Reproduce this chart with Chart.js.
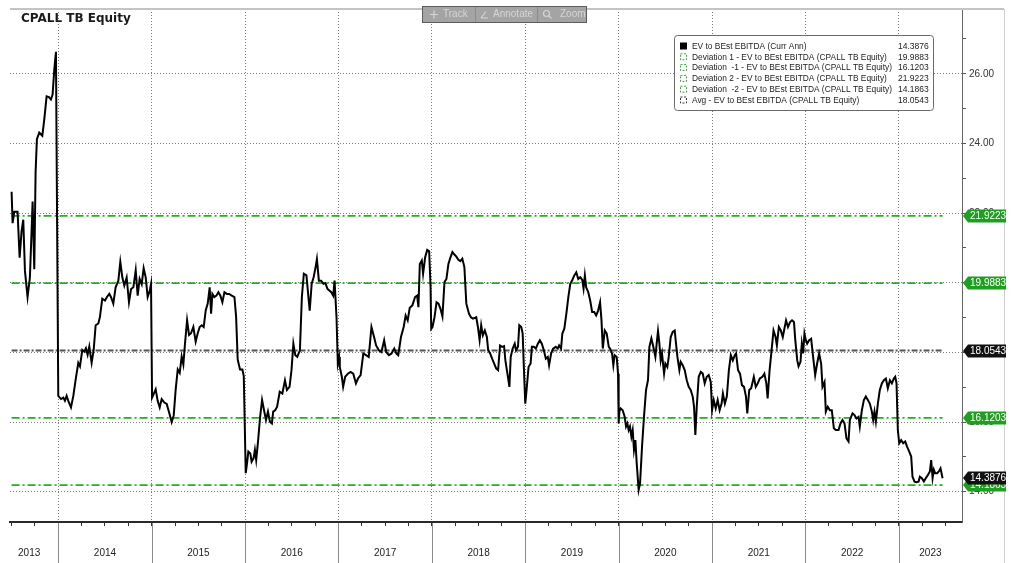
<!DOCTYPE html>
<html>
<head>
<meta charset="utf-8">
<script src="https://cdn.jsdelivr.net/npm/chart.js@4.4.0/dist/chart.umd.min.js"></script>
<style>
html,body{margin:0;padding:0;background:#fff;overflow:hidden}
#wrap{width:1013px;height:563px;position:relative}
</style>
</head>
<body>
<div id="wrap"><canvas id="c" width="1013" height="563"></canvas></div>
<script>
// ---------------- DATA ----------------
const title = 'CPALL TB Equity';
const years = [2013,2014,2015,2016,2017,2018,2019,2020,2021,2022,2023];
const dates = [
 2013.500,2013.511,2013.529,2013.564,2013.586,2013.607,2013.625,2013.643,2013.671,2013.696,2013.714,2013.725,2013.743,2013.757,2013.771,2013.796,2013.829,2013.850,2013.875,2013.900,2013.921,2013.939,2013.957,2013.975,
 2014.000,2014.029,2014.054,2014.071,2014.089,2014.107,2014.136,2014.161,2014.186,2014.214,2014.232,2014.257,2014.279,2014.296,2014.314,2014.332,2014.357,2014.379,2014.400,2014.429,2014.446,2014.471,2014.500,2014.521,2014.546,2014.564,2014.589,2014.614,2014.643,2014.664,2014.686,2014.707,2014.732,2014.757,2014.779,2014.804,2014.829,2014.850,2014.871,2014.893,2014.914,2014.936,2014.957,2014.979,2014.993,
 2015.004,2015.021,2015.043,2015.064,2015.086,2015.107,2015.136,2015.161,2015.186,2015.214,2015.236,2015.257,2015.279,2015.300,2015.321,2015.339,2015.357,2015.379,2015.400,2015.421,2015.446,2015.471,2015.493,2015.514,2015.536,2015.557,2015.579,2015.600,2015.621,2015.636,2015.650,2015.671,2015.693,2015.714,2015.736,2015.757,2015.779,2015.804,2015.829,2015.857,2015.886,2015.904,2015.921,2015.946,2015.971,2015.986,
 2016.007,2016.021,2016.035,2016.056,2016.070,2016.091,2016.105,2016.119,2016.140,2016.161,2016.182,2016.203,2016.224,2016.245,2016.266,2016.287,2016.301,2016.322,2016.343,2016.371,2016.399,2016.427,2016.448,2016.476,2016.497,2016.517,2016.538,2016.559,2016.587,2016.608,2016.629,2016.657,2016.678,2016.692,2016.713,2016.734,2016.755,2016.769,2016.790,2016.815,2016.839,2016.860,2016.881,2016.902,2016.923,2016.944,2016.958,2016.979,2016.993,
 2017.007,2017.014,2017.036,2017.050,2017.072,2017.101,2017.129,2017.158,2017.187,2017.209,2017.237,2017.266,2017.295,2017.324,2017.353,2017.381,2017.403,2017.432,2017.460,2017.489,2017.511,2017.540,2017.568,2017.597,2017.619,2017.640,2017.669,2017.698,2017.719,2017.741,2017.763,2017.791,2017.820,2017.842,2017.856,2017.871,2017.892,2017.906,2017.928,2017.950,2017.971,2017.986,2017.993,
 2018.007,2018.028,2018.050,2018.071,2018.092,2018.113,2018.135,2018.156,2018.177,2018.199,2018.220,2018.241,2018.262,2018.284,2018.305,2018.326,2018.348,2018.369,2018.397,2018.418,2018.440,2018.475,2018.493,2018.511,2018.528,2018.546,2018.567,2018.589,2018.603,2018.624,2018.645,2018.667,2018.688,2018.709,2018.730,2018.752,2018.773,2018.787,2018.809,2018.830,2018.844,2018.865,2018.887,2018.901,2018.922,2018.936,2018.957,2018.972,2018.986,
 2019.000,2019.014,2019.035,2019.057,2019.071,2019.092,2019.113,2019.135,2019.156,2019.177,2019.199,2019.220,2019.241,2019.255,2019.277,2019.298,2019.326,2019.348,2019.362,2019.383,2019.397,2019.418,2019.440,2019.461,2019.482,2019.504,2019.525,2019.546,2019.567,2019.589,2019.610,2019.624,2019.638,2019.652,2019.674,2019.695,2019.716,2019.738,2019.759,2019.780,2019.801,2019.816,2019.830,2019.851,2019.872,2019.894,2019.908,2019.929,2019.943,2019.957,2019.979,2019.993,
 2020.000,2020.007,2020.021,2020.043,2020.064,2020.079,2020.093,2020.107,2020.121,2020.136,2020.150,2020.164,2020.179,2020.193,2020.214,2020.229,2020.250,2020.271,2020.293,2020.314,2020.329,2020.350,2020.371,2020.393,2020.407,2020.421,2020.436,2020.450,2020.464,2020.486,2020.500,2020.521,2020.536,2020.557,2020.579,2020.600,2020.614,2020.629,2020.650,2020.664,2020.686,2020.707,2020.729,2020.750,2020.771,2020.793,2020.807,2020.821,2020.836,2020.857,2020.879,2020.900,2020.921,2020.943,2020.964,2020.986,
 2021.000,2021.018,2021.039,2021.060,2021.081,2021.102,2021.116,2021.137,2021.158,2021.180,2021.201,2021.222,2021.243,2021.257,2021.278,2021.299,2021.320,2021.342,2021.363,2021.377,2021.398,2021.419,2021.447,2021.468,2021.489,2021.511,2021.539,2021.560,2021.581,2021.595,2021.616,2021.637,2021.658,2021.680,2021.694,2021.715,2021.736,2021.757,2021.778,2021.792,2021.813,2021.835,2021.856,2021.877,2021.891,2021.912,2021.926,2021.947,2021.961,2021.975,2021.989,
 2022.004,2022.018,2022.039,2022.061,2022.082,2022.104,2022.125,2022.146,2022.168,2022.182,2022.204,2022.218,2022.239,2022.261,2022.282,2022.304,2022.325,2022.354,2022.375,2022.396,2022.418,2022.439,2022.461,2022.475,2022.504,2022.525,2022.546,2022.568,2022.582,2022.604,2022.625,2022.646,2022.668,2022.689,2022.711,2022.725,2022.739,2022.754,2022.775,2022.796,2022.818,2022.839,2022.861,2022.882,2022.904,2022.925,2022.946,2022.961,2022.975,2022.989,
 2023.004,2023.025,2023.046,2023.068,2023.089,2023.111,2023.132,2023.146,2023.168,2023.189,2023.211,2023.225,2023.246,2023.268,2023.289,2023.311,2023.332,2023.346,2023.361,2023.375,2023.389,2023.411,2023.432,2023.446,2023.468
];
const values = [
 22.61,21.71,22.04,22.04,20.72,21.48,21.81,20.34,19.59,20.15,21.48,22.33,20.39,23.18,24.12,24.31,24.22,24.69,25.35,25.33,25.26,25.40,26.11,26.63,
 16.75,16.66,16.70,16.61,16.75,16.61,16.42,16.75,17.22,17.70,17.60,18.07,18.02,18.12,17.93,18.17,17.70,18.07,18.78,18.83,19.02,19.54,19.49,19.59,19.68,19.59,19.40,19.87,20.06,20.60,20.15,19.92,20.15,19.44,19.82,19.87,20.36,19.63,20.11,19.96,20.42,20.15,19.59,19.77,19.96,
 16.70,16.80,16.94,16.61,16.42,16.66,16.56,16.52,16.28,16.00,16.19,16.94,17.51,17.41,17.88,17.65,18.26,18.92,18.50,18.55,18.73,18.31,18.55,18.73,18.78,18.73,19.21,19.40,19.87,19.11,19.68,19.59,19.63,19.73,19.63,19.44,19.73,19.68,19.68,19.63,19.59,19.02,17.79,17.51,17.51,17.32,
 14.53,14.82,15.15,15.10,14.86,14.96,15.20,14.91,15.48,16.15,16.63,16.34,16.06,16.30,16.01,15.96,16.30,16.34,16.44,16.87,16.82,17.20,16.92,17.01,17.49,18.25,17.92,17.87,18.06,19.59,20.26,20.21,19.59,19.20,19.97,20.16,20.45,20.68,20.06,20.06,19.97,19.99,19.83,19.78,19.73,19.63,20.06,19.01,17.68,
 17.87,17.58,17.30,17.01,17.30,17.39,17.44,17.39,17.11,17.25,17.35,17.97,17.92,17.87,18.73,18.44,18.20,18.06,18.01,18.35,18.01,17.92,17.97,18.11,17.97,17.92,18.44,18.73,19.06,18.92,19.28,19.35,19.59,19.63,19.30,20.54,20.64,20.26,20.73,20.94,20.90,19.87,18.68,
 18.73,19.01,19.44,19.40,19.25,19.03,20.02,20.11,20.54,20.73,20.88,20.81,20.75,20.66,20.62,20.69,20.45,19.40,19.11,19.01,18.97,19.01,18.73,18.35,18.78,18.49,18.63,18.44,18.06,17.97,17.82,17.68,17.54,17.49,18.20,18.16,18.18,17.77,17.39,17.01,17.87,18.11,18.25,18.06,18.16,18.78,18.73,18.54,17.49,
 16.53,16.92,17.58,17.68,18.16,18.16,18.11,18.25,18.35,18.25,18.06,17.82,17.87,17.63,17.97,18.11,18.16,18.11,18.20,18.11,18.54,18.68,19.11,19.59,19.97,20.08,20.21,20.30,20.11,20.16,20.08,19.83,20.21,19.87,19.73,19.49,19.16,19.16,19.06,19.20,19.44,18.92,18.11,18.63,18.54,18.16,18.11,17.97,17.63,17.92,17.87,17.39,
 15.96,16.30,16.39,16.34,16.15,15.87,15.96,15.77,15.87,15.58,15.77,15.20,15.48,14.82,14.05,14.24,15.29,16.15,16.92,17.20,18.16,18.40,18.16,17.87,18.25,18.61,18.25,17.77,17.97,17.39,17.68,17.58,17.87,18.44,18.59,18.63,18.25,17.87,17.49,17.73,17.63,17.49,17.20,17.01,16.92,16.73,16.44,15.63,16.44,17.30,17.44,17.39,17.11,17.30,17.35,17.15,
 16.34,16.63,16.39,16.63,16.34,16.53,16.82,16.53,16.73,17.49,17.92,17.77,17.92,17.97,17.49,17.39,17.06,17.01,16.73,16.25,16.92,16.97,17.30,17.01,17.11,17.25,17.30,17.39,17.11,16.68,17.49,18.06,18.63,18.44,18.20,18.73,18.63,18.44,18.73,18.92,18.73,18.87,18.92,18.87,18.35,17.77,17.60,17.73,18.25,17.97,18.54,
 18.35,18.25,18.35,18.39,17.87,17.35,17.68,17.97,17.68,17.01,17.15,16.30,16.44,16.34,16.34,15.82,15.77,15.77,15.96,16.06,15.96,15.53,15.44,16.06,16.25,16.20,16.10,16.15,15.87,16.34,16.63,16.73,16.63,16.53,16.30,16.06,16.30,16.01,16.53,16.92,17.11,17.20,17.25,16.97,17.20,17.11,17.25,17.30,17.11,15.77,
 15.39,15.48,15.39,15.44,15.29,15.15,15.01,14.43,14.29,14.27,14.29,14.43,14.39,14.29,14.39,14.48,14.58,14.91,14.39,14.63,14.53,14.53,14.60,14.67,14.3876
];
const seriesName = 'EV to BEst EBITDA (Curr Ann)';
const lastValue = 14.3876;
const refNames = [
 'Deviation 1 - EV to BEst EBITDA (CPALL TB Equity)',
 'Deviation  -1 - EV to BEst EBITDA (CPALL TB Equity)',
 'Deviation 2 - EV to BEst EBITDA (CPALL TB Equity)',
 'Deviation  -2 - EV to BEst EBITDA (CPALL TB Equity)',
 'Avg - EV to BEst EBITDA (CPALL TB Equity)'
];
const refValues = [19.9883, 16.1203, 21.9223, 14.1863, 18.0543];
const refKinds = ['dev','dev','dev','dev','avg'];
const yTickValues = [14,15,16,17,18,19,20,21,22,23,24,25,26,27];
const toolbarItems = ['Track','Annotate','Zoom'];

// ---------------- STYLE ----------------
const GREEN = '#1fb21f';
const GREEN_TAG = '#1f9f1f';
const FONT = '"Liberation Sans", Arial, sans-serif';
Chart.defaults.font.family = FONT;

const X_MIN = 2013.483, X_MAX = 2023.676;
const Y_MIN = 13.13, Y_MAX = 27.86;

const mainData = dates.map((d, i) => ({x: d, y: values[i]}));
const datasets = [{
  label: seriesName, data: mainData, borderColor: '#000', borderWidth: 2,
  pointRadius: 0, tension: 0, order: 0
}];
refValues.forEach((v, i) => {
  const dev = refKinds[i] === 'dev';
  datasets.push({
    label: refNames[i],
    data: [{x: dates[0], y: v}, {x: dates[dates.length - 1], y: v}],
    borderColor: dev ? GREEN : '#555', borderWidth: 1.8,
    borderDash: dev ? [8, 3, 2, 3] : [6, 2, 2, 2],
    pointRadius: 0, order: 1
  });
});

const xTickValues = [];
for (let q = 2013.5; q <= 2023.5001; q += 0.25) xTickValues.push(+q.toFixed(2));

const overlay = {
  id: 'overlay',
  afterDraw(chart) {
    const {ctx, chartArea: a, scales: {x, y}} = chart;
    const H = chart.height;
    ctx.save();
    // top frame line
    ctx.strokeStyle = '#c4c4c4'; ctx.lineWidth = 2;
    ctx.beginPath(); ctx.moveTo(a.left, a.top); ctx.lineTo(1004, a.top); ctx.stroke();
    // right light frame
    ctx.strokeStyle = '#d0d0d0'; ctx.lineWidth = 1;
    ctx.beginPath(); ctx.moveTo(1004.5, a.top); ctx.lineTo(1004.5, H); ctx.stroke();

    // year band separators + labels
    ctx.strokeStyle = '#8a8a8a'; ctx.lineWidth = 1;
    years.forEach(yr => {
      if (yr <= X_MIN) return;
      const px = Math.round(x.getPixelForValue(yr)) + 0.5;
      ctx.beginPath(); ctx.moveTo(px, a.bottom + 1); ctx.lineTo(px, H); ctx.stroke();
    });
    ctx.fillStyle = '#222'; ctx.font = '10px ' + FONT;
    ctx.textAlign = 'center'; ctx.textBaseline = 'middle';
    years.forEach(yr => {
      const l = Math.max(x.getPixelForValue(yr), 0);
      const r = Math.min(x.getPixelForValue(yr + 1), a.right);
      ctx.fillText(String(yr), (l + r) / 2, 553);
    });

    // value tags on the right axis
    const tag = (v, bg, txt) => {
      const yc = Math.round(y.getPixelForValue(v));
      const x0 = a.right + 1, h = 6.5;
      ctx.beginPath();
      ctx.moveTo(x0, yc); ctx.lineTo(x0 + 5, yc - h); ctx.lineTo(1006, yc - h);
      ctx.lineTo(1006, yc + h); ctx.lineTo(x0 + 5, yc + h); ctx.closePath();
      ctx.fillStyle = bg; ctx.fill();
      ctx.fillStyle = '#fff'; ctx.font = '10px ' + FONT;
      ctx.textAlign = 'left'; ctx.textBaseline = 'middle';
      ctx.fillText(txt, x0 + 7, yc + 0.5);
    };
    refValues.forEach((v, i) => tag(v, refKinds[i] === 'dev' ? GREEN_TAG : '#111', v.toFixed(4)));
    tag(lastValue, '#111', lastValue.toFixed(4));

    // title
    ctx.fillStyle = '#1a1a1a'; ctx.font = 'bold 12px "DejaVu Sans", ' + FONT;
    ctx.textAlign = 'left'; ctx.textBaseline = 'middle';
    ctx.fillText(title, 21, 19, 110);

    // toolbar
    const tb = {l: 422, t: 6, r: 587, b: 23};
    ctx.fillStyle = '#a4a4a4'; ctx.fillRect(tb.l, tb.t, tb.r - tb.l, tb.b - tb.t);
    ctx.strokeStyle = '#5c5c5c'; ctx.lineWidth = 1;
    ctx.strokeRect(tb.l + 0.5, tb.t + 0.5, tb.r - tb.l - 1, tb.b - tb.t - 1);
    ctx.strokeStyle = '#8c8c8c';
    [475, 537].forEach(sx => { ctx.beginPath(); ctx.moveTo(sx + 0.5, tb.t + 1); ctx.lineTo(sx + 0.5, tb.b - 1); ctx.stroke(); });
    ctx.fillStyle = '#d6d6d6'; ctx.font = '10px ' + FONT; ctx.textBaseline = 'middle';
    const tbY = 14.5;
    ctx.fillText(toolbarItems[0], 443, tbY);
    ctx.fillText(toolbarItems[1], 493, tbY);
    ctx.fillText(toolbarItems[2], 560, tbY);
    ctx.strokeStyle = '#d6d6d6'; ctx.lineWidth = 1.2;
    ctx.beginPath(); ctx.moveTo(430, tbY); ctx.lineTo(438, tbY); ctx.moveTo(434, tbY - 4); ctx.lineTo(434, tbY + 4); ctx.stroke();
    ctx.beginPath(); ctx.moveTo(481, tbY + 3.5); ctx.lineTo(488, tbY + 3.5); ctx.moveTo(481, tbY + 3.5); ctx.lineTo(486, tbY - 3); ctx.stroke();
    ctx.beginPath(); ctx.arc(546.5, tbY - 1, 3, 0, Math.PI * 2); ctx.moveTo(548.7, tbY + 1.2); ctx.lineTo(551.5, tbY + 4); ctx.stroke();

    // legend box
    const lg = {l: 674, t: 35, r: 933, b: 110};
    ctx.fillStyle = '#fff'; ctx.strokeStyle = '#6a6a6a'; ctx.lineWidth = 1;
    ctx.beginPath();
    if (ctx.roundRect) ctx.roundRect(lg.l + 0.5, lg.t + 0.5, lg.r - lg.l, lg.b - lg.t, 3);
    else ctx.rect(lg.l + 0.5, lg.t + 0.5, lg.r - lg.l, lg.b - lg.t);
    ctx.fill(); ctx.stroke();
    const names = [seriesName].concat(refNames);
    const vals = [lastValue].concat(refValues);
    const kinds = ['main'].concat(refKinds);
    ctx.font = '8.5px ' + FONT; ctx.textAlign = 'left'; ctx.textBaseline = 'middle';
    const longest = Math.max(...names.map(n => ctx.measureText(n).width));
    const k = Math.min(1, 200 / longest);
    names.forEach((n, i) => {
      const ry = 46 + i * 10.8;
      if (kinds[i] === 'main') {
        ctx.fillStyle = '#000'; ctx.fillRect(680, ry - 3.5, 7, 7);
      } else {
        ctx.strokeStyle = kinds[i] === 'dev' ? '#2fae2f' : '#333'; ctx.lineWidth = 1;
        ctx.setLineDash([2, 1.5]); ctx.strokeRect(680.5, ry - 3, 6, 6); ctx.setLineDash([]);
      }
      ctx.fillStyle = '#222';
      ctx.fillText(n, 692, ry + 0.5, ctx.measureText(n).width * k);
      ctx.fillText(vals[i].toFixed(4), 898, ry + 0.5);
    });
    ctx.restore();
  }
};

new Chart(document.getElementById('c'), {
  type: 'line',
  data: {datasets},
  options: {
    responsive: false, animation: false, devicePixelRatio: 1,
    layout: {padding: {left: 10, top: 5, right: 0, bottom: 0}},
    plugins: {legend: {display: false}, tooltip: {enabled: false}},
    elements: {line: {tension: 0}},
    scales: {
      x: {
        type: 'linear', position: 'bottom', min: X_MIN, max: X_MAX,
        afterBuildTicks: s => { s.ticks = xTickValues.filter(v => v >= X_MIN && v <= X_MAX).map(v => ({value: v})); },
        afterFit: s => { s.height = 41; },
        ticks: {display: false},
        grid: {
          color: c => (c.tick && Number.isInteger(c.tick.value)) ? '#7a7a7a' : 'rgba(0,0,0,0)',
          lineWidth: 1, drawTicks: true, tickLength: 4, tickColor: '#333', tickWidth: 1
        },
        border: {display: true, color: '#2a2a2a', width: 2, dash: [1, 2]}
      },
      y: {
        type: 'linear', position: 'right', min: Y_MIN, max: Y_MAX,
        afterBuildTicks: s => { s.ticks = yTickValues.map(v => ({value: v})); },
        afterFit: s => { s.width = 51; },
        ticks: {
          autoSkip: false, padding: 3, color: '#333', font: {size: 10, family: FONT},
          callback: v => (v % 2 === 0 ? v.toFixed(2) : '')
        },
        grid: {
          color: c => (c.tick && c.tick.value % 2 === 0) ? '#7a7a7a' : 'rgba(0,0,0,0)',
          lineWidth: 1, drawTicks: true, tickLength: 4, tickColor: '#555', tickWidth: 1
        },
        border: {display: true, color: '#666', width: 1, dash: [1, 2]}
      }
    }
  },
  plugins: [overlay]
});
</script>
</body>
</html>
